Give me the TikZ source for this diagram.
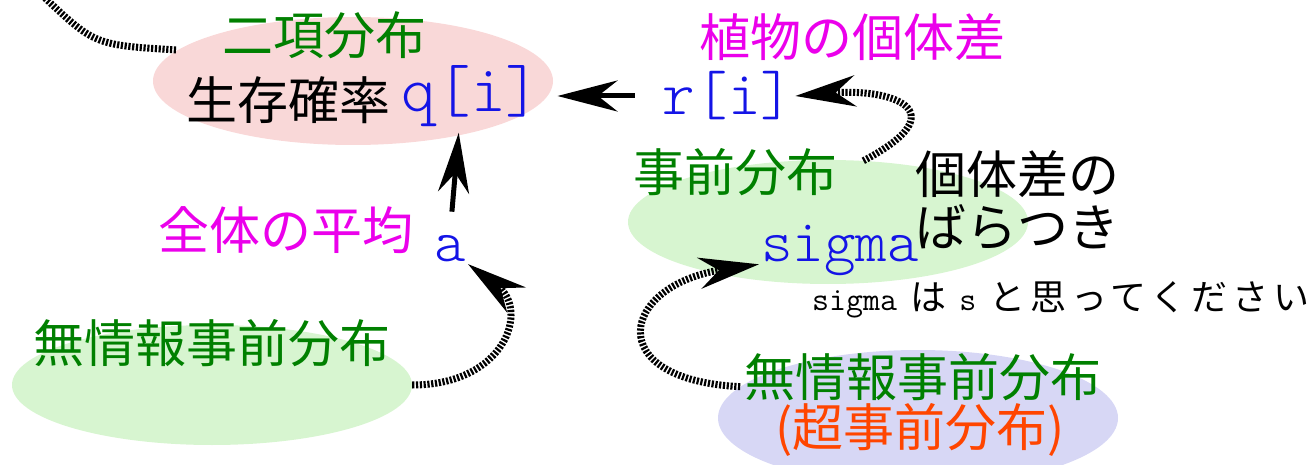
\documentclass[tikz,border=0pt]{standalone}
\usepackage{tikz}
\usetikzlibrary{positioning,shapes.geometric,arrows.meta}
\usepackage{fontspec}
\newfontfamily\jp{Noto Sans CJK JP}
\newfontfamily\jpnote[LetterSpace=14]{Noto Sans CJK JP}
\newfontfamily\lmlight{Latin Modern Mono Light}
\definecolor{pinkbg}{RGB}{249,216,216}
\definecolor{greenbg}{RGB}{215,245,208}
\definecolor{bluebg}{RGB}{215,215,245}
\definecolor{darkgreen}{RGB}{0,128,0}
\definecolor{hotpink}{RGB}{235,0,235}
\definecolor{varblue}{RGB}{20,20,230}
\definecolor{hyper}{RGB}{255,69,0}

\begin{document}
\begin{tikzpicture}[x=1pt, y=1pt, >={Stealth[length=60pt,width=31pt]},
			every node/.style={inner sep=2pt},
			blob/.style={ellipse, minimum width=400pt},
			big/.style={font=\jp\fontsize{51}{53}\selectfont},
			var/.style={font=\lmlight\fontsize{62}{64}\selectfont, text=varblue},
			dots/.style={line width=7pt, dash pattern=on 2.2pt off 1.6pt},
			link/.style={->, line width=5pt}]

			\useasboundingbox (0,0) rectangle (1309,-465);

			\node (P) [blob, fill=pinkbg, minimum height=128pt] at (353,-81) {};
			\node (G1) [blob, fill=greenbg, minimum height=124pt] at (828,-222) {};
			\node (G2) [blob, fill=greenbg, minimum height=120pt] at (212,-385) {};
			\node (B) [blob, fill=bluebg, minimum height=136pt] at (918,-418) {};

			\node (BIN) [big, text=darkgreen] at (324,-35) {二項分布};
			\node (S) [big] at (288,-100) {生存確率};
			\node (Q) [var, font=\lmlight\fontsize{66}{68}\selectfont] at (471,-96) {q[i]};
			\node (IND) [big, text=hotpink] at (852,-37) {植物の個体差};
			\node (R) [var] at (728,-96) {r[i]};
			\node (PRI) [big, text=darkgreen] at (735,-172) {事前分布};
			\node (V) [big, align=left] at (1017,-200) {個体差の\\ばらつき};
			\node (SG) [var, font=\lmlight\fontsize{60}{64}\selectfont] at (840,-250) {sigma};
			\node (N) [font=\jpnote\fontsize{36}{40}\selectfont] at (1061,-300)
				{{\ttfamily\fontsize{33}{36}\selectfont sigma} は {\ttfamily\fontsize{33}{36}\selectfont s} と思ってください};
			\node (M) [big, text=hotpink] at (286,-230) {全体の平均};
			\node (A) [var, font=\lmlight\fontsize{60}{64}\selectfont] at (450,-249) {a};
			\node (NI1) [big, text=darkgreen] at (212,-343) {無情報事前分布};
			\node (NI2) [big, text=darkgreen] at (923,-377) {無情報事前分布};
			\node (HY) [big, text=hyper] at (920,-430) {(超事前分布)};
			\coordinate (T) at (45,2);

			\draw [link, shorten <=26pt, shorten >=15pt] (R.west) -- (Q.east);
			\draw [link, shorten <=22pt, shorten >=4pt] (A.north) -- (Q.-110);
			\draw [dots, ->] (G2.east) .. controls (505,-385) and (530,-310) .. (A.-40);
			\draw [dots, ->] (B.170) .. controls (600,-380) and (620,-285) .. (SG.190);
			\draw [dots, ->] (G1.60) .. controls (960,-110) and (890,-88) .. (R.east);
			\draw [dots] (T) .. controls (95,-45) .. (P.170);
	\end{tikzpicture}
\end{document}
